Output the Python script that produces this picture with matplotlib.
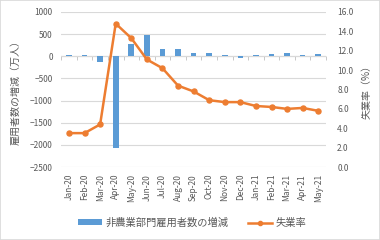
import matplotlib
matplotlib.use("Agg")
import matplotlib.pyplot as plt
import numpy as np
from matplotlib.patches import Patch
from matplotlib.lines import Line2D

plt.rcParams['font.family'] = ['Noto Sans CJK JP', 'DejaVu Sans']

months = ["Jan-20", "Feb-20", "Mar-20", "Apr-20", "May-20", "Jun-20", "Jul-20", "Aug-20",
          "Sep-20", "Oct-20", "Nov-20", "Dec-20", "Jan-21", "Feb-21", "Mar-21", "Apr-21", "May-21"]
payrolls = [21, 25, -137, -2068, 272, 478, 176, 158, 71, 68, 26, -31, 23, 54, 78, 27, 56]
unemployment = [3.5, 3.5, 4.4, 14.8, 13.3, 11.1, 10.2, 8.4, 7.8, 6.9, 6.7, 6.7, 6.3, 6.2, 6.0, 6.1, 5.8]

bar_color = '#5B9BD5'
line_color = '#ED7D31'
text_color = '#595959'
grid_color = '#D9D9D9'

fig = plt.figure(figsize=(3.8, 2.4), dpi=100)
ax = fig.add_axes([0.161, 0.304, 0.697, 0.646])
x = np.arange(len(months))

ax.bar(x, payrolls, width=0.36, color=bar_color, zorder=2)
ax.set_ylim(-2500, 1000)
ax.set_yticks(np.arange(-2500, 1001, 500))
ax.set_xlim(-0.5, len(months) - 0.5)
ax.grid(axis='y', color=grid_color, linewidth=0.8, zorder=0)
ax.axhline(0, color='#BFBFBF', linewidth=0.8, zorder=1)
for s in ax.spines.values():
    s.set_visible(False)
ax.set_xticks(x)
ax.set_xticklabels(months, rotation=90, fontsize=6, color=text_color)
ax.tick_params(axis='x', length=0, pad=5)
ax.tick_params(axis='y', length=0, labelsize=6, labelcolor=text_color, pad=6)
ax.set_ylabel("雇用者数の増減（万人）", fontsize=7.2, color=text_color, labelpad=7)

# tick marks at zero line between categories
frac0 = (0 - (-2500)) / 3500
sec = ax.secondary_xaxis(frac0)
sec.set_xticks(np.arange(-0.5, len(months), 1.0))
sec.tick_params(axis='x', direction='out', length=3, color='#BFBFBF', labelbottom=False, labeltop=False, width=0.6)
sec.xaxis.set_ticks_position('bottom')
sec.spines['bottom'].set_visible(False)
sec.spines['top'].set_visible(False)
sec.set_xticklabels([])

ax2 = ax.twinx()
ax2.plot(x, unemployment, color=line_color, linewidth=1.8, marker='o', markersize=3.6, zorder=3)
ax2.set_ylim(0, 16)
ax2.set_yticks(np.arange(0, 16.1, 2))
ax2.set_yticklabels([f"{v:.1f}" for v in np.arange(0, 16.1, 2)])
for s in ax2.spines.values():
    s.set_visible(False)
ax2.tick_params(axis='y', length=0, labelsize=6, labelcolor=text_color, pad=8)
ax2.set_ylabel("失業率（%）", fontsize=7.2, color=text_color, rotation=90, labelpad=6)

handles = [Patch(facecolor=bar_color, edgecolor='none'),
           Line2D([0], [0], color=line_color, linewidth=1.8, marker='o', markersize=3)]
fig.legend(handles, ["非農業部門雇用者数の増減", "失業率"], loc='center', bbox_to_anchor=(0.505, 0.072),
           ncol=2, frameon=False, fontsize=7.4, labelcolor=text_color, handlelength=2.4,
           handleheight=0.5, columnspacing=1.9, handletextpad=0.3)

fig.patches.append(plt.Rectangle((0, 0), 1, 1, transform=fig.transFigure, fill=False,
                                 edgecolor='#D9D9D9', linewidth=1.2))
fig.savefig("out.png", dpi=100)
